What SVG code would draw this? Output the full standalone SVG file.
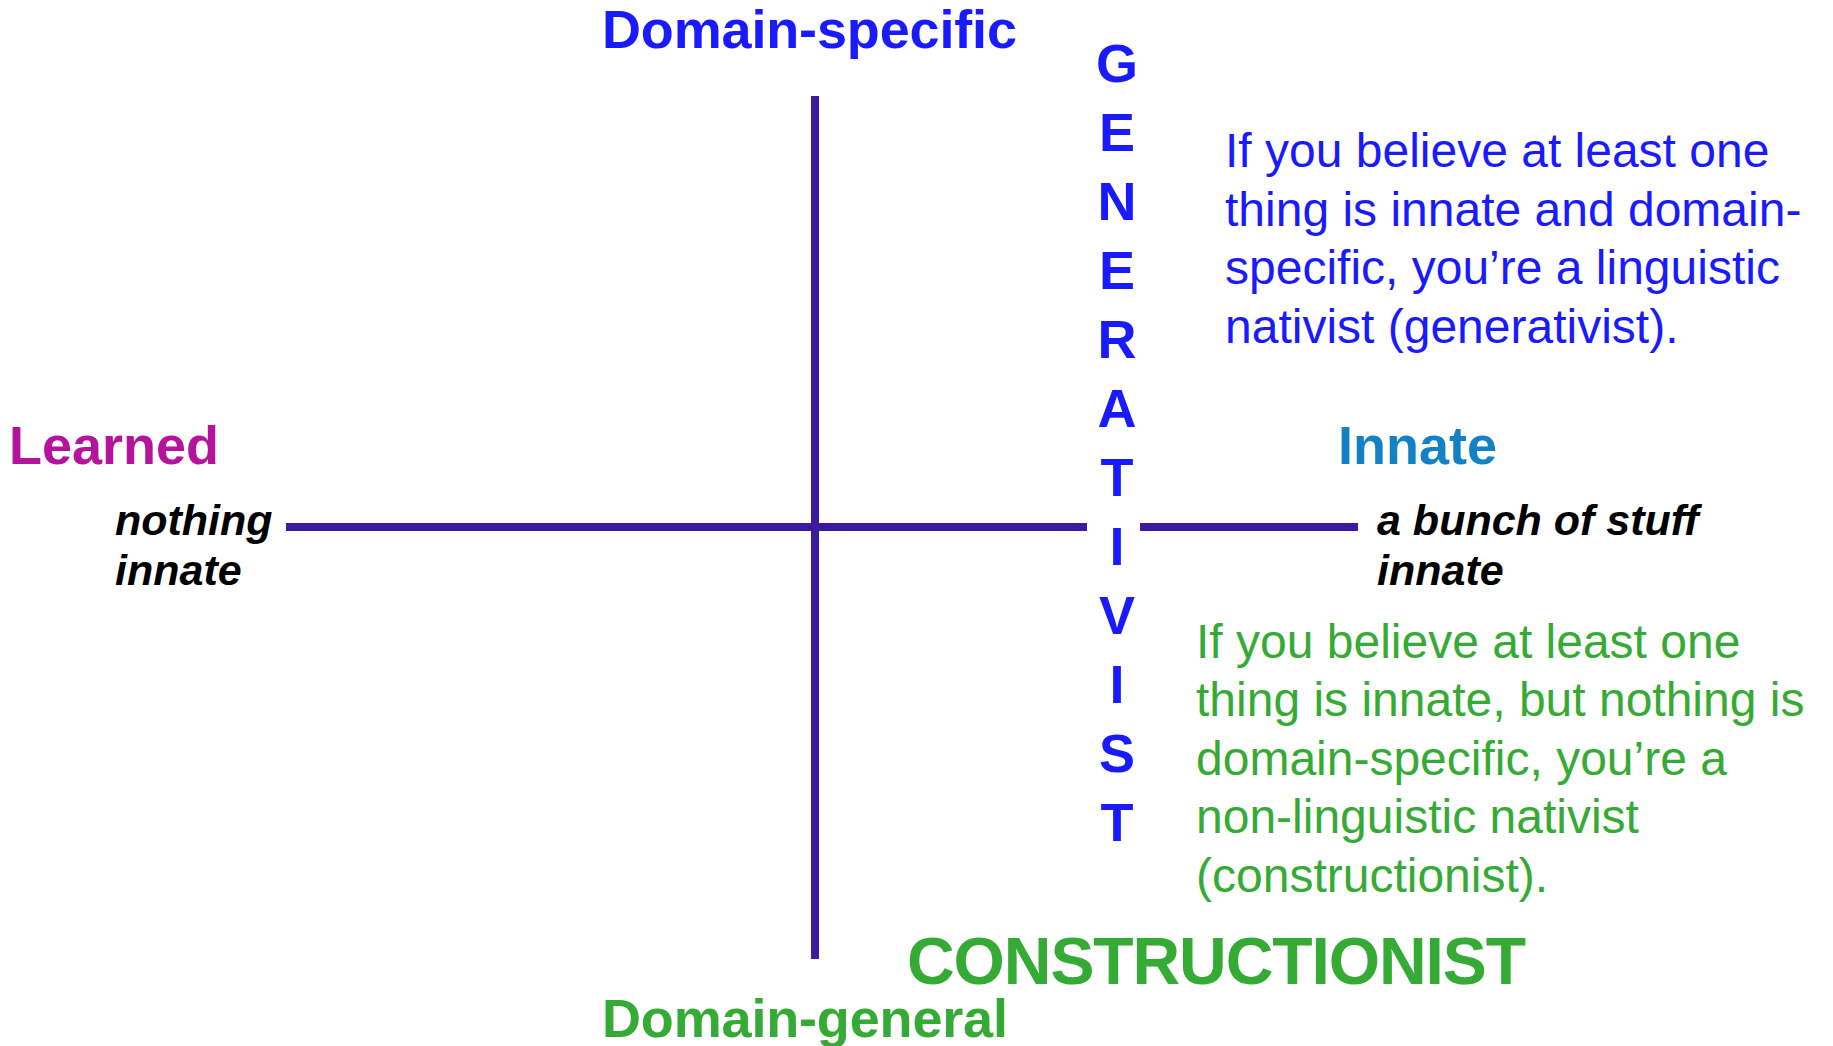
<svg xmlns="http://www.w3.org/2000/svg" width="1833" height="1046" viewBox="0 0 1833 1046">
<style>
text{font-family:"Liberation Sans",Arial,Helvetica,sans-serif}
.hd{font-weight:bold;font-size:54px}
.blue{fill:#1a1aff}
.green{fill:#35aa35}
.gen{font-weight:bold;font-size:54px;fill:#1a1aff;text-anchor:middle}
.pole{font-weight:bold;font-style:italic;font-size:43px;fill:#000}
.para{font-size:48px}
.axis{stroke:#3a1aa0;stroke-width:8;fill:none}
</style>
<rect width="1833" height="1046" fill="#fff"/>
<g id="connectors">
<line class="axis" x1="815" y1="96" x2="815" y2="959"/>
<line class="axis" x1="286" y1="527" x2="1087" y2="527"/>
<line class="axis" x1="1140" y1="527" x2="1358" y2="527"/>
</g>
<g id="domain-specific"><text class="hd blue" x="602" y="48" textLength="415">Domain-specific</text></g>
<g id="domain-general"><text class="hd green" x="602" y="1037" textLength="406">Domain-general</text></g>
<g id="learned">
<text class="hd" x="9" y="464" fill="#b4149c">Learned</text>
<text class="pole" x="115" y="535">nothing</text>
<text class="pole" x="115" y="585">innate</text>
</g>
<g id="innate">
<text class="hd" x="1338" y="464" fill="#1581c5">Innate</text>
<text class="pole" x="1377" y="535">a bunch of stuff</text>
<text class="pole" x="1377" y="585">innate</text>
</g>
<g id="generativist">
<text class="gen" x="1117" y="82">G</text>
<text class="gen" x="1117" y="151">E</text>
<text class="gen" x="1117" y="220">N</text>
<text class="gen" x="1117" y="289">E</text>
<text class="gen" x="1117" y="358">R</text>
<text class="gen" x="1117" y="427">A</text>
<text class="gen" x="1117" y="496">T</text>
<text class="gen" x="1117" y="565">I</text>
<text class="gen" x="1117" y="634">V</text>
<text class="gen" x="1117" y="703">I</text>
<text class="gen" x="1117" y="772">S</text>
<text class="gen" x="1117" y="841">T</text>
</g>
<g id="generativist-note">
<text class="para blue" x="1225" y="167">If you believe at least one</text>
<text class="para blue" x="1225" y="226">thing is innate and domain-</text>
<text class="para blue" x="1225" y="284">specific, you’re a linguistic</text>
<text class="para blue" x="1225" y="343">nativist (generativist).</text>
</g>
<g id="constructionist-note">
<text class="para green" x="1196" y="658">If you believe at least one</text>
<text class="para green" x="1196" y="716">thing is innate, but nothing is</text>
<text class="para green" x="1196" y="775">domain-specific, you’re a</text>
<text class="para green" x="1196" y="833">non-linguistic nativist</text>
<text class="para green" x="1196" y="892">(constructionist).</text>
</g>
<g id="constructionist"><text class="green" x="907" y="984" font-weight="bold" font-size="66" textLength="619">CONSTRUCTIONIST</text></g>
</svg>
